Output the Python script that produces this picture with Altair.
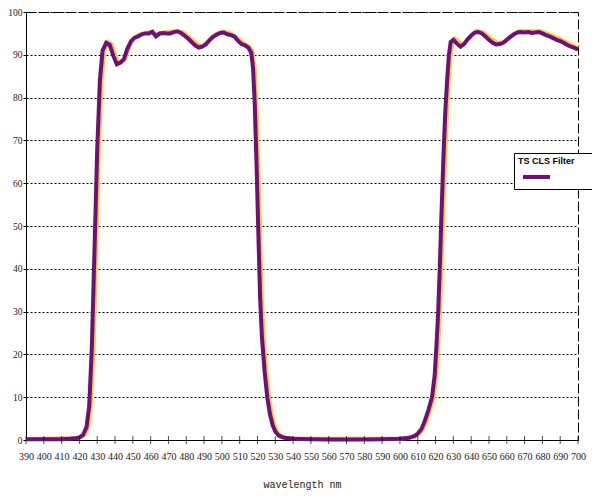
import altair as alt
import pandas as pd

# ---- data ----
purple_wl = [390, 400, 410, 415, 418, 420, 422, 424, 425.5, 427, 428.5, 430, 431.5, 433, 435,
             437, 439, 441, 443, 445, 447, 449, 451, 453, 455, 457, 459, 461, 463, 465, 467,
             469, 471, 473, 475, 477, 479, 481, 483, 485, 487, 489, 491, 493, 495, 497, 499,
             501, 503, 505, 507, 509, 511, 513, 515, 516.5, 517.5, 518.5, 519.5, 520.5, 521.5,
             522.5, 524, 525.5, 527, 528.5, 530, 532, 535, 540, 550, 560, 570, 580, 590, 600,
             605, 608, 610, 612, 614, 616, 618, 619.5, 620.5, 621.5, 622.5, 623.5, 624.5, 625.5,
             626.5, 627.5, 628.5, 630, 632, 634, 636, 638, 640, 642, 644, 646, 648, 650, 652,
             654, 656, 658, 660, 662, 664, 666, 668, 670, 672, 674, 676, 678, 680, 682, 684,
             686, 688, 690, 692, 694, 696, 698, 700]
purple_val = [0.2, 0.2, 0.2, 0.3, 0.4, 0.6, 1.2, 3, 8, 22, 45, 68, 84, 91, 92.8,
              92.3, 89.8, 87.8, 88.2, 89, 91.5, 93.2, 94, 94.3, 94.8, 95, 95, 95.4, 94.3, 95, 95.1,
              95, 95, 95.3, 95.5, 95.1, 94.5, 93.8, 93, 92.2, 91.7, 91.9, 92.4, 93.4, 94.2, 94.7, 95.1,
              95.2, 94.8, 94.6, 94.3, 93.3, 92.5, 92.2, 91.6, 90.5, 87, 78, 64, 48, 33,
              24, 16, 10, 6, 3.5, 2, 1, 0.5, 0.3, 0.2, 0.1, 0.1, 0.1, 0.2, 0.3,
              0.5, 0.9, 1.5, 2.5, 4.5, 7, 10, 15, 22, 30, 42, 55, 67, 77,
              84, 90, 93, 93.5, 92.6, 91.9, 92.5, 93.6, 94.5, 95.2, 95.3, 95, 94.3, 93.5, 92.8,
              92.4, 92.5, 92.8, 93.5, 94.2, 94.8, 95.2, 95.3, 95.2, 95.3, 95.1, 95.2, 95.3, 95, 94.6, 94.3,
              93.9, 93.5, 93.2, 92.8, 92.3, 91.9, 91.6, 91.2]

orange_wl = [390, 420, 423, 425, 426.5, 428, 429.5, 431, 432.5, 434, 436, 438, 440, 442, 444, 446,
             448, 450, 453, 456, 460, 464, 468, 474, 478, 482, 486, 489, 493, 497, 501, 505, 509,
             512, 515, 517, 518.5, 519.5, 520.5, 521.5, 522.5, 523.5, 525, 526.5, 528, 529.5, 531,
             533, 536, 545, 600, 606, 609, 611, 613, 615, 617, 619, 620.5, 621.5, 622.5, 623.5,
             624.5, 625.5, 626.5, 627.5, 628.5, 629.5, 631, 633, 635, 639, 643, 647, 651, 655,
             659, 663, 667, 673, 679, 683, 689, 695, 700]
orange_val = [0.2, 0.5, 1.2, 3, 8, 22, 45, 68, 84, 91, 93, 92.5, 90, 88, 88.3, 89.3,
              91.8, 93.5, 94.6, 95, 95.3, 94.6, 95.3, 95.5, 95.3, 94, 92.5, 92, 93.5, 94.9, 95.4, 95, 93.8,
              92.8, 92, 91, 87, 78, 64, 48, 33, 24, 16, 10, 6, 3.5, 2,
              1, 0.5, 0.3, 0.3, 0.5, 0.9, 1.5, 2.5, 4.5, 7, 10, 15, 22, 30, 42,
              55, 67, 77, 84, 90, 93, 93.8, 93, 92.3, 94, 95.6, 95.2, 93.8, 92.7,
              93, 94.5, 95.5, 95.5, 95.5, 94.9, 93.9, 92.6, 91.6]

x_ticks = list(range(390, 701, 10))
y_ticks = list(range(0, 101, 10))
series_name = "TS CLS Filter"

PURPLE = "#6C1175"
ORANGE = "#FFC24A"

df_p = pd.DataFrame({"wl": purple_wl, "T": purple_val, "series": series_name})
df_o = pd.DataFrame({"wl": orange_wl, "T": orange_val})
df_t = pd.DataFrame({"wl": x_ticks, "T": [0] * len(x_ticks)})

xscale = alt.Scale(domain=[390, 700], nice=False, zero=False)
yscale = alt.Scale(domain=[0, 100], nice=False)

x_axis = alt.Axis(values=x_ticks, title="wavelength nm", grid=False, ticks=False,
                  labelPadding=11, labelFont="Liberation Serif", labelFontSize=10,
                  labelColor="#222222", labelOverlap=False, labelBound=False,
                  labelFlush=False, domainColor="black", domainWidth=1,
                  titleFont="Liberation Mono", titleFontSize=10, titleFontWeight="normal",
                  titleColor="#222222", titlePadding=18)
y_axis = alt.Axis(values=y_ticks, title=None, grid=True, gridColor="black",
                  gridDash=[2, 2], gridWidth=1, tickSize=3, tickColor="black",
                  labelPadding=1, labelFont="Liberation Serif", labelFontSize=9.5,
                  labelColor="#222222", labelOverlap=False, labelFlush=False,
                  domainColor="black", domainWidth=1)

orange = alt.Chart(df_o).mark_line(strokeWidth=4, color=ORANGE).encode(
    x=alt.X("wl:Q", scale=xscale, axis=x_axis),
    y=alt.Y("T:Q", scale=yscale, axis=y_axis),
)

purple = alt.Chart(df_p).mark_line(strokeWidth=4).encode(
    x=alt.X("wl:Q", scale=xscale, axis=x_axis),
    y=alt.Y("T:Q", scale=yscale, axis=y_axis),
    color=alt.Color("series:N",
                    scale=alt.Scale(domain=[series_name], range=[PURPLE]),
                    legend=alt.Legend(title=series_name, orient="none",
                                      legendX=488, legendY=141,
                                      fillColor="white", strokeColor="black",
                                      padding=4, titlePadding=6,
                                      titleFont="Liberation Sans", titleFontSize=9,
                                      titleFontWeight="bold", titleColor="black",
                                      symbolType="M0,0H9", symbolSize=36,
                                      symbolStrokeWidth=4, symbolStrokeColor=PURPLE,
                                      labelExpr="'MMMMMMMMMMMM'", labelFontSize=6,
                                      labelOpacity=0, labelOffset=4)),
)

ticks = alt.Chart(df_t).mark_tick(orient="vertical", size=8, thickness=1, color="black").encode(
    x=alt.X("wl:Q", scale=xscale, axis=x_axis),
    y=alt.Y("T:Q", scale=yscale, axis=y_axis),
)

chart = alt.layer(orange, purple, ticks).properties(
    width=552, height=428,
    autosize=alt.AutoSizeParams(type="none"),
    padding={"left": 18, "top": 4, "right": 14, "bottom": 58},
).configure(
    background="white",
    view=alt.ViewConfig(stroke="black", strokeDash=[10, 3], strokeWidth=1),
)

chart.save("out.html", embed_options={"renderer": "svg", "actions": False})
